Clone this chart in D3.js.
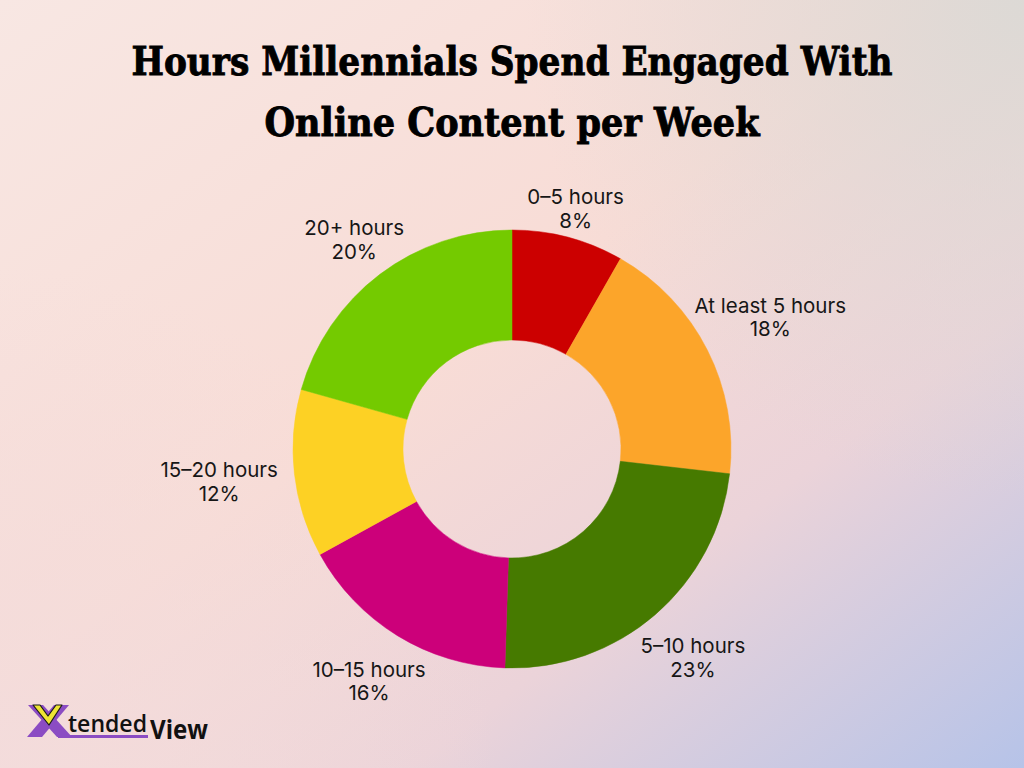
<!DOCTYPE html>
<html>
<head>
<meta charset="utf-8">
<script src="https://cdn.jsdelivr.net/npm/d3@7"></script>
<style>
  html, body { margin: 0; padding: 0; width: 1024px; height: 768px; overflow: hidden; }
  svg { display: block; }
</style>
</head>
<body>
<svg id="chart" width="1024" height="768"></svg>
<script>
// ---------- data ----------
const titleLines = ["Hours Millennials Spend Engaged With", "Online Content per Week"];
const categories = ["0\u20135 hours", "At least 5 hours", "5\u201310 hours", "10\u201315 hours", "15\u201320 hours", "20+ hours"];
const values = [8, 18, 23, 16, 12, 20];
const colors = ["#CC0000", "#FCA52A", "#467A00", "#CC007A", "#FDD124", "#74CA00"];

// ---------- setup ----------
const W = 1024, H = 768;
const svg = d3.select("#chart");
const defs = svg.append("defs");

// background gradient
const lg = defs.append("linearGradient").attr("id", "bg")
  .attr("x1", "0").attr("y1", "0").attr("x2", "1").attr("y2", "1");
lg.append("stop").attr("offset", "0").attr("stop-color", "#F8E7E3");
lg.append("stop").attr("offset", "0.45").attr("stop-color", "#F8DCD6");
lg.append("stop").attr("offset", "0.7").attr("stop-color", "#EBD3D9");
lg.append("stop").attr("offset", "1").attr("stop-color", "#B6C3E8");
svg.append("rect").attr("width", W).attr("height", H).attr("fill", "url(#bg)");

const rgTR = defs.append("radialGradient").attr("id", "tr")
  .attr("gradientUnits", "userSpaceOnUse").attr("cx", 1024).attr("cy", 0).attr("r", 500);
rgTR.append("stop").attr("offset", "0").attr("stop-color", "#DBD9D5").attr("stop-opacity", 0.95);
rgTR.append("stop").attr("offset", "1").attr("stop-color", "#DBD9D5").attr("stop-opacity", 0);
svg.append("rect").attr("width", W).attr("height", H).attr("fill", "url(#tr)");

const rgBL = defs.append("radialGradient").attr("id", "bl")
  .attr("gradientUnits", "userSpaceOnUse").attr("cx", 0).attr("cy", 768).attr("r", 500);
rgBL.append("stop").attr("offset", "0").attr("stop-color", "#F3DCDC").attr("stop-opacity", 0.9);
rgBL.append("stop").attr("offset", "1").attr("stop-color", "#F3DCDC").attr("stop-opacity", 0);
svg.append("rect").attr("width", W).attr("height", H).attr("fill", "url(#bl)");

// ---------- title ----------
const titleLens = [761, 495];
svg.append("g").selectAll("text").data(titleLines).join("text")
  .attr("x", 512)
  .attr("y", (d, i) => 75 + i * 61)
  .attr("text-anchor", "middle")
  .attr("font-family", "'DejaVu Serif', serif")
  .attr("font-weight", "bold")
  .attr("font-size", 39)
  .attr("fill", "#000")
  .attr("stroke", "#000")
  .attr("stroke-width", 0.9)
  .attr("textLength", (d, i) => titleLens[i])
  .attr("lengthAdjust", "spacingAndGlyphs")
  .text(d => d);

// ---------- donut ----------
const cx = 512, cy = 449, rOuter = 219, rInner = 109;
const pie = d3.pie().sort(null).value(d => d.value);
const arcs = pie(categories.map((c, i) => ({ label: c, value: values[i], color: colors[i] })));
const arc = d3.arc().innerRadius(rInner).outerRadius(rOuter);

const g = svg.append("g").attr("transform", `translate(${cx},${cy})`);
g.selectAll("path").data(arcs).join("path")
  .attr("d", arc)
  .attr("fill", d => d.data.color)
  .attr("stroke", d => d.data.color)
  .attr("stroke-width", 0.5);

// ---------- labels ----------
const fontSize = 20.5;
const lab = g.selectAll("g.lab").data(arcs).join("g").attr("class", "lab");
lab.append("text")
  .attr("class", "l1")
  .attr("text-anchor", "middle")
  .attr("font-family", "Inter, 'Open Sans', sans-serif")
  .attr("font-size", fontSize)
  .attr("fill", "#161616")
  .text(d => d.data.label);
lab.append("text")
  .attr("class", "l2")
  .attr("text-anchor", "middle")
  .attr("font-family", "Inter, 'Open Sans', sans-serif")
  .attr("font-size", fontSize)
  .attr("fill", "#161616")
  .text(d => d.data.value + "%");

lab.each(function(d) {
  const sel = d3.select(this);
  const w = Math.max(sel.select(".l1").node().getComputedTextLength(),
                     sel.select(".l2").node().getComputedTextLength());
  const a = (d.startAngle + d.endAngle) / 2;
  const s = Math.sin(a), c = Math.cos(a);
  const r = rOuter + 20 + 0.75 * Math.abs(s) * w / 2 + (c < 0 ? 12 : 0);
  const x = r * s, y = -r * c;
  sel.select(".l1").attr("x", x).attr("y", y - 5);
  sel.select(".l2").attr("x", x).attr("y", y + 18.5);
});

// ---------- logo ----------
const logo = svg.append("g").attr("class", "logo");
const purple = "#8B4CC3";
logo.append("polygon")
  .attr("points", "28,705 43,705 72,737 57,737")
  .attr("fill", purple);
logo.append("polygon")
  .attr("points", "54,705 69,705 42,737 27,737")
  .attr("fill", purple);
logo.append("polygon")
  .attr("points", "33,705 40,705 48,716 56,705 62,705 49,725")
  .attr("fill", "#EEE434").attr("stroke", "#1a1a1a").attr("stroke-width", 1.2)
  .attr("stroke-linejoin", "round");
logo.append("rect").attr("x", 58).attr("y", 735).attr("width", 90).attr("height", 3).attr("fill", purple);
logo.append("text")
  .attr("x", 68).attr("y", 732)
  .attr("font-family", "'Open Sans', sans-serif").attr("font-weight", 600)
  .attr("font-size", 24).attr("fill", "#111")
  .attr("textLength", 79).attr("lengthAdjust", "spacingAndGlyphs")
  .text("tended");
logo.append("text")
  .attr("x", 150).attr("y", 739)
  .attr("font-family", "'Open Sans', sans-serif").attr("font-weight", "bold")
  .attr("font-size", 27).attr("fill", "#111")
  .attr("textLength", 58).attr("lengthAdjust", "spacingAndGlyphs")
  .text("View");
</script>
</body>
</html>
